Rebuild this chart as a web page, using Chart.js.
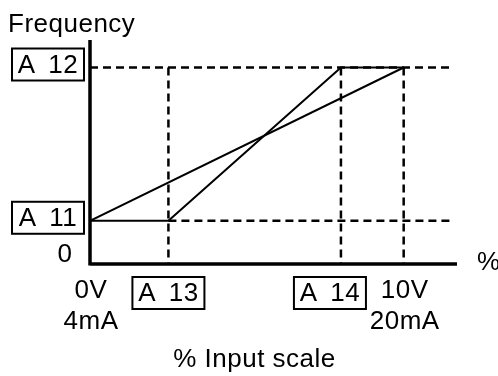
<!DOCTYPE html>
<html>
<head>
<meta charset="utf-8">
<script src="https://cdn.jsdelivr.net/npm/chart.js@4/dist/chart.umd.min.js"></script>
<style>
  body { margin: 0; background: #fff; }
  #wrap { width: 498px; height: 376px; }
</style>
</head>
<body>
<div id="wrap"><canvas id="chart" width="498" height="376"></canvas></div>
<script>
// x axis: % input scale, y axis: output frequency
const xTickVals = [0, 25, 80, 100];
const xTickLabels = [['0V', '4mA'], 'A 13', 'A 14', ['10V', '20mA']];
const xBoxed = [false, true, true, false];
const yTickVals = [0, 22, 100];
const yTickLabels = ['0', 'A 11', 'A 12'];
const yBoxed = [false, true, true];

// direct line (A13 = 0%, A14 = 100%)
const directX = [0, 100];
const directY = [22, 100];
// offset line using start/end points A13 and A14
const offsetX = [0, 25, 80, 100];
const offsetY = [22, 22, 100, 100];

const guideEnd = 115;
const xMax = 117;
const yMax = 114;

const pts = (xs, ys) => xs.map((x, i) => ({ x: x, y: ys[i] }));

const solid = { borderColor: '#000', borderWidth: 2, pointRadius: 0, tension: 0, fill: false };
const dashed = { borderColor: '#000', borderWidth: 2.5, borderDash: [8, 5], pointRadius: 0, tension: 0, fill: false, borderCapStyle: 'butt' };

const datasets = [
  { ...solid, data: pts(directX, directY) },
  { ...solid, data: pts(offsetX, offsetY) },
  // horizontal guides
  { ...dashed, data: pts([0, guideEnd], [yTickVals[2], yTickVals[2]]) },
  { ...dashed, data: pts([xTickVals[1], guideEnd], [yTickVals[1], yTickVals[1]]) },
  // vertical guides
  ...xTickVals.slice(1).map(v => ({ ...dashed, data: pts([v, v], [yTickVals[2], 0]) }))
];

const FONT = '26px "Liberation Sans", Arial, sans-serif';

function setFont(ctx, align, base) {
  ctx.font = FONT;
  ctx.letterSpacing = '0.5px';
  ctx.wordSpacing = '0px';
  ctx.textAlign = align;
  ctx.textBaseline = base;
}

function boxLabel(ctx, text, cx, cy) {
  setFont(ctx, 'center', 'middle');
  ctx.wordSpacing = '5px';
  ctx.fillText(text, cx, cy + 1);
  ctx.lineWidth = 2;
  ctx.strokeRect(cx - 36, cy - 16, 72, 32);
}

const annotate = {
  id: 'annotate',
  afterDraw(chart) {
    const { ctx, chartArea: a, scales: { x, y } } = chart;
    ctx.save();
    ctx.fillStyle = '#000';
    ctx.strokeStyle = '#000';

    // axes
    ctx.lineWidth = 3.5;
    ctx.beginPath();
    ctx.moveTo(a.left, a.top);
    ctx.lineTo(a.left, a.bottom + 1.5);
    ctx.moveTo(a.left, a.bottom);
    ctx.lineTo(a.right, a.bottom);
    ctx.stroke();

    // y labels
    yTickVals.forEach((v, i) => {
      const py = y.getPixelForValue(v);
      if (yBoxed[i]) {
        boxLabel(ctx, yTickLabels[i], a.left - 42, py - 3);
      } else {
        setFont(ctx, 'center', 'alphabetic');
        ctx.fillText(yTickLabels[i], a.left - 25, py - 2);
      }
    });

    // x labels
    xTickVals.forEach((v, i) => {
      const px = x.getPixelForValue(v);
      if (xBoxed[i]) {
        const shift = i === 2 ? -11 : 0;
        boxLabel(ctx, xTickLabels[i], px + shift, a.bottom + 29);
      } else {
        setFont(ctx, 'center', 'alphabetic');
        const lines = xTickLabels[i];
        lines.forEach((t, k) => ctx.fillText(t, px + 1, a.bottom + 34 + k * 31));
      }
    });

    // titles
    setFont(ctx, 'left', 'alphabetic');
    ctx.fillText('Frequency', 8, 32);
    ctx.fillText('%', a.right + 20, a.bottom + 6);
    ctx.textAlign = 'center';
    ctx.fillText('% Input scale', (a.left + a.right) / 2 - 19, 367);
    ctx.restore();
  }
};

new Chart(document.getElementById('chart'), {
  type: 'line',
  data: { datasets },
  options: {
    responsive: false,
    animation: false,
    parsing: false,
    layout: { padding: { left: 90, top: 40, right: 41, bottom: 112 } },
    plugins: { legend: { display: false }, tooltip: { enabled: false } },
    scales: {
      x: { type: 'linear', min: 0, max: xMax, display: false },
      y: { type: 'linear', min: 0, max: yMax, display: false }
    }
  },
  plugins: [annotate]
});
</script>
</body>
</html>
